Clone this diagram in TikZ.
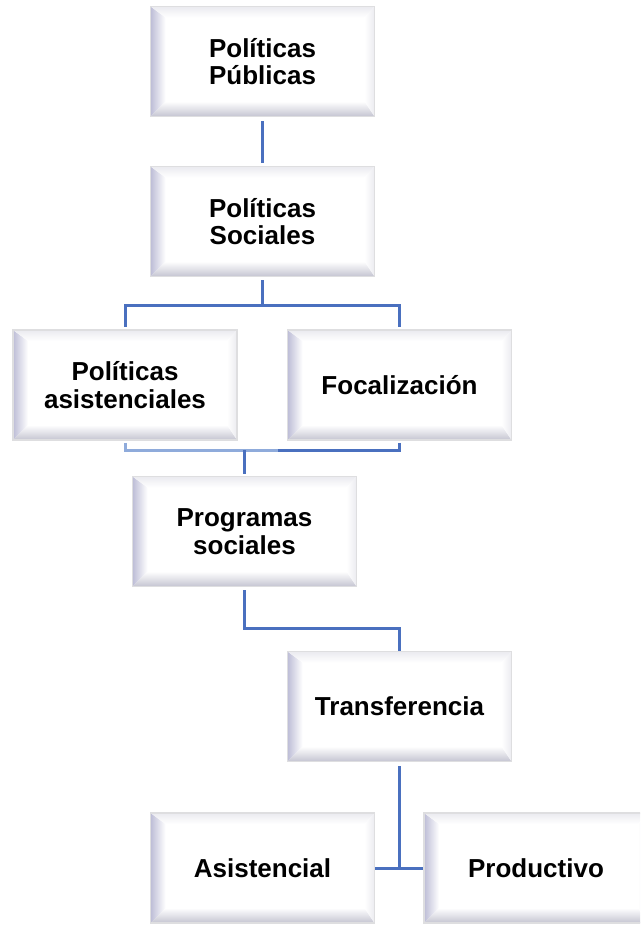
\documentclass[tikz,border=0pt]{standalone}
\usepackage{fontspec}
\setmainfont{Liberation Sans}
\usepackage{tikz}
\usetikzlibrary{positioning}
\usepackage{xcolor}
\definecolor{rim}{rgb}{0.87,0.87,0.88}
\definecolor{bevelside}{rgb}{0.74,0.74,0.84}
\definecolor{bevellow}{rgb}{0.77,0.77,0.82}
\definecolor{bevelhigh}{rgb}{0.92,0.92,0.94}
\definecolor{linkblue}{rgb}{0.29,0.44,0.75}
\definecolor{linklight}{rgb}{0.56,0.67,0.86}

\begin{document}
\begin{tikzpicture}[x=1pt, y=-1pt,
  bevelbox/.style = {minimum width = 224pt, minimum height = 110pt, inner sep = 0pt,
    align = center, draw = rim, line width = 1.8pt, fill = white,
    font = \fontsize{26}{27.5}\selectfont\bfseries,
    path picture = {
      \coordinate (sw) at (path picture bounding box.south west);
      \coordinate (se) at (path picture bounding box.south east);
      \coordinate (nw) at (path picture bounding box.north west);
      \coordinate (ne) at (path picture bounding box.north east);
      \shade[left color = bevelside, right color = white]
        (sw) -- (nw) -- ([shift={(15pt,-11pt)}]nw) -- ([shift={(15pt,15pt)}]sw) -- cycle;
      \shade[bottom color = bevellow, top color = white]
        (sw) -- ([shift={(15pt,15pt)}]sw) -- ([shift={(-10pt,15pt)}]se) -- (se) -- cycle;
      \shade[top color = bevelhigh, bottom color = white]
        (nw) -- (ne) -- ([shift={(-10pt,-11pt)}]ne) -- ([shift={(15pt,-11pt)}]nw) -- cycle;
      \shade[right color = bevelhigh, left color = white]
        (ne) -- (se) -- ([shift={(-10pt,15pt)}]se) -- ([shift={(-10pt,-11pt)}]ne) -- cycle;
    }},
  link/.style = {draw = linkblue, line width = 3pt},
  softlink/.style = {draw = linklight, line width = 3pt}
]
\path[use as bounding box, clip] (0,0) rectangle (640,925);

\node[bevelbox] (pub) at (262.5,61.5) {Políticas\\Públicas};
\node[bevelbox] (soc) at (262.5,221.5) {Políticas\\Sociales};
\node[bevelbox] (asis) at (125,385) {Políticas\\asistenciales};
\node[bevelbox] (foc) at (399.5,385) {Focalización};
\node[bevelbox] (prog) at (244.5,531.5) {Programas\\sociales};
\node[bevelbox] (trans) at (399.5,706.5) {Transferencia};
\node[bevelbox] (asisc) at (262.5,868) {Asistencial};
\node[bevelbox] (prod) at (536,868) {Productivo};

\coordinate (fork) at (262.5,305);
\coordinate (merge) at (278,450);
\coordinate (bend) at (244.5,628);

\draw[link, shorten <=4pt, shorten >=3pt] (pub) -- (soc);
\draw[link, shorten <=3pt] (soc) -- (fork);
\draw[link, shorten >=2pt] (fork) -| (asis);
\draw[link, shorten >=2pt] (fork) -| (foc);
\draw[softlink, shorten <=2pt] (asis) |- (merge);
\draw[link, shorten <=2pt] (foc) |- (merge);
\draw[link, shorten >=2pt] (merge -| prog) -- (prog);
\draw[link, shorten <=3pt] (prog) -- (bend) -| (trans);
\draw[link, shorten <=4pt] (trans) -- (trans |- asisc.east);
\draw[link] (asisc) -- (prod);
\end{tikzpicture}
\end{document}
